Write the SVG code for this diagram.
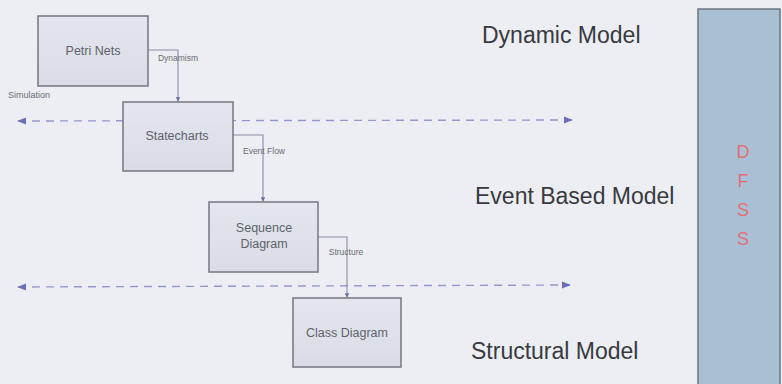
<svg xmlns="http://www.w3.org/2000/svg" width="782" height="384" viewBox="0 0 782 384">
  <defs>
    <marker id="tip" viewBox="0 0 6 6" refX="5" refY="3" markerWidth="4" markerHeight="4" orient="auto">
      <path d="M0,0 L6,3 L0,6 z" fill="#6a6fa6"/>
    </marker>
    <marker id="dash-tip" viewBox="0 0 10 10" refX="9" refY="5" markerWidth="9" markerHeight="9" markerUnits="userSpaceOnUse" orient="auto-start-reverse">
      <path d="M0,1 L10,5 L0,9 z" fill="#6c6fb8"/>
    </marker>
    <linearGradient id="boxfill" x1="0" y1="0" x2="0" y2="1">
      <stop offset="0" stop-color="#e4e6ee"/>
      <stop offset="1" stop-color="#d9dce6"/>
    </linearGradient>
  </defs>
  <style>
    .node rect { fill: url(#boxfill); stroke: #7b7d86; stroke-width: 1.6; }
    .node text { font-family: "Liberation Sans", Arial, sans-serif; font-size: 12.5px; fill: #5e616b; text-anchor: middle; }
    .link { fill: none; stroke: #8a8ca6; stroke-width: 1.1; }
    .lbl { font-family: "Liberation Sans", Arial, sans-serif; font-size: 8.5px; fill: #6a6c74; }
    .level { fill: none; stroke: #9296d4; stroke-width: 1.4; stroke-dasharray: 8 6; }
    .model { font-family: "Liberation Sans", Arial, sans-serif; font-size: 23px; fill: #383a40; }
    .dfss text { font-family: "Liberation Sans", Arial, sans-serif; font-size: 18px; fill: #e36f76; text-anchor: middle; }
  </style>

  <rect width="782" height="384" fill="#eceef3"/>

  <!-- level separators -->
  <g id="levels">
    <line class="level" x1="18" y1="121" x2="572" y2="120" marker-start="url(#dash-tip)" marker-end="url(#dash-tip)"/>
    <line class="level" x1="18" y1="287" x2="570" y2="285" marker-start="url(#dash-tip)" marker-end="url(#dash-tip)"/>
  </g>

  <!-- connectors -->
  <g id="connectors">
    <path class="link" d="M148,50 H178 V101" marker-end="url(#tip)"/>
    <text class="lbl" x="178" y="61" text-anchor="middle">Dynamism</text>
    <text class="lbl" x="8" y="98" style="font-size:9px">Simulation</text>
    <path class="link" d="M233,135 H263 V201" marker-end="url(#tip)"/>
    <text class="lbl" x="264" y="154" text-anchor="middle">Event Flow</text>
    <path class="link" d="M318,237 H347 V297" marker-end="url(#tip)"/>
    <text class="lbl" x="346" y="255" text-anchor="middle">Structure</text>
  </g>

  <g id="petri-nets" class="node">
    <rect x="38" y="16" width="110" height="70"/>
    <text x="93" y="55">Petri Nets</text>
  </g>
  <g id="statecharts" class="node">
    <rect x="123" y="102" width="110" height="69"/>
    <text x="177" y="140">Statecharts</text>
  </g>
  <g id="sequence-diagram" class="node">
    <rect x="209" y="202" width="109" height="70"/>
    <text x="264" y="232">Sequence</text>
    <text x="264" y="248">Diagram</text>
  </g>
  <g id="class-diagram" class="node">
    <rect x="293" y="298" width="108" height="69"/>
    <text x="347" y="337">Class Diagram</text>
  </g>

  <!-- level titles -->
  <text class="model" x="482" y="43">Dynamic Model</text>
  <text class="model" x="475" y="204">Event Based Model</text>
  <text class="model" x="471" y="359">Structural Model</text>

  <g id="dfss" class="dfss">
    <rect x="698" y="9" width="82" height="376" fill="#a9bfd3" stroke="#6d737e" stroke-width="1.5"/>
    <text x="743" y="158">D</text>
    <text x="743" y="187">F</text>
    <text x="743" y="216">S</text>
    <text x="743" y="245">S</text>
  </g>
</svg>
